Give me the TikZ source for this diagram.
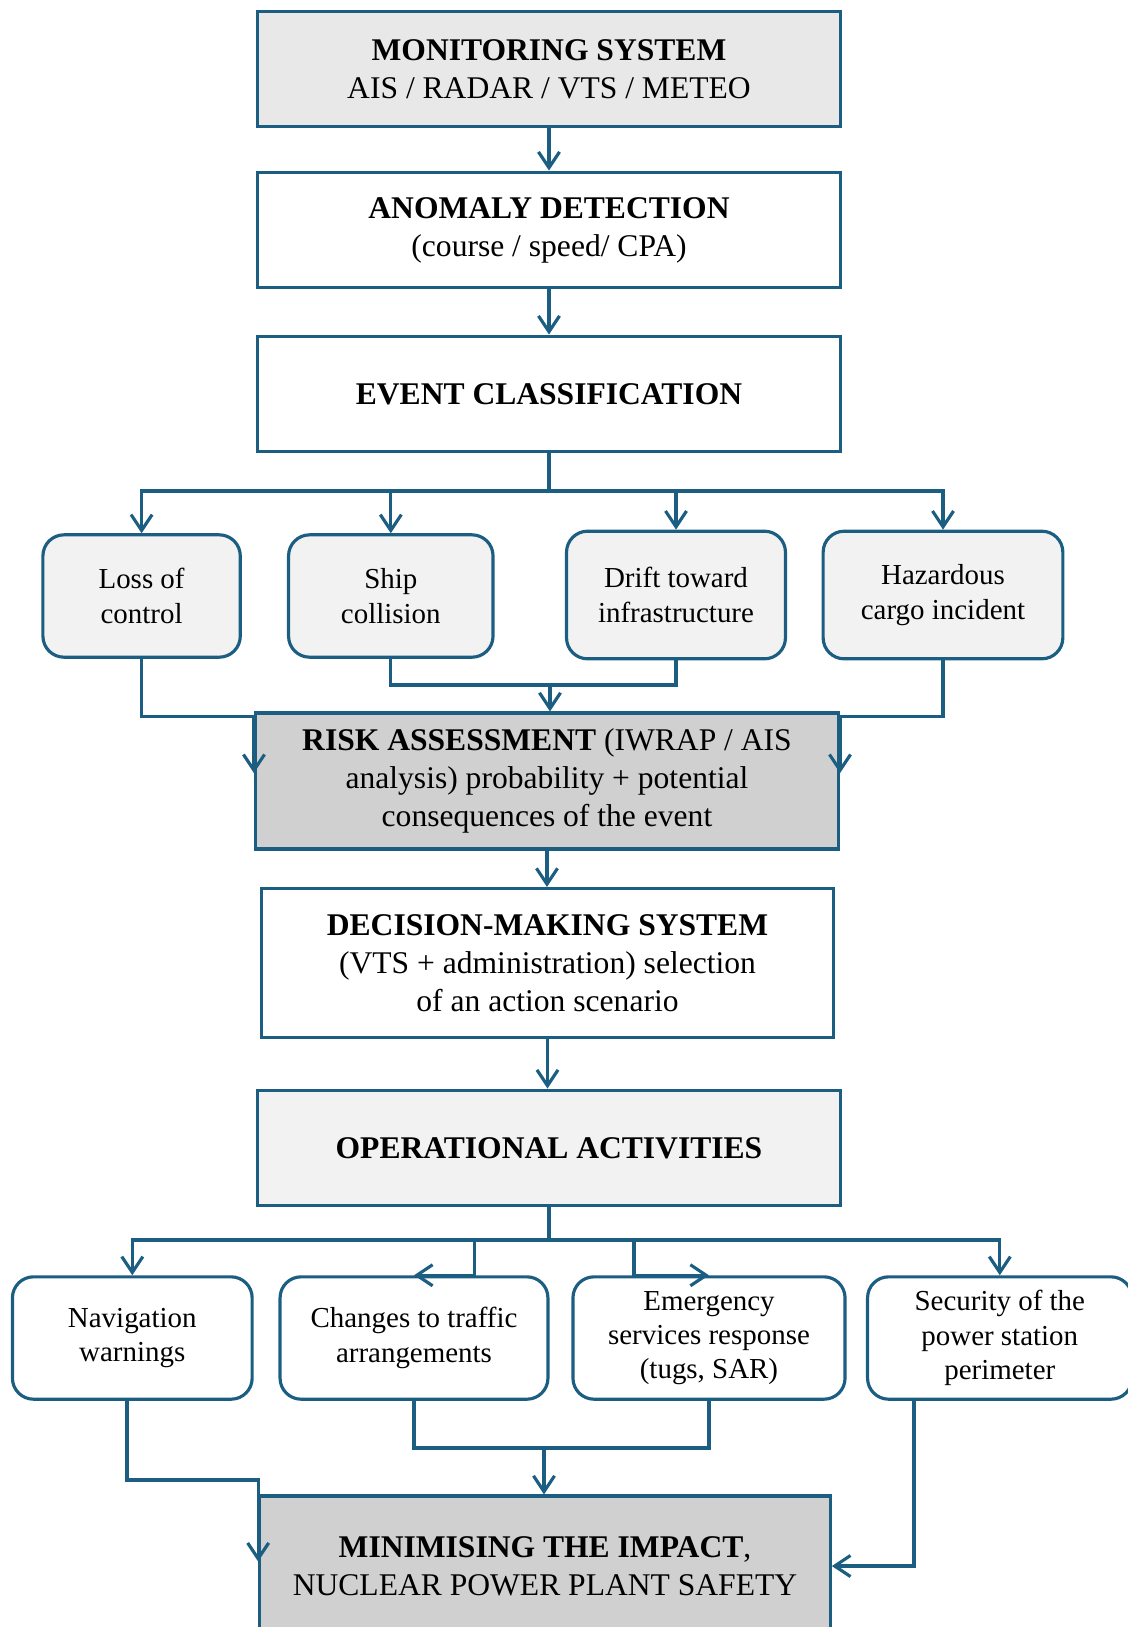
\documentclass[tikz,border=0pt]{standalone}
\usepackage{fontspec}
\setmainfont{Liberation Serif}
\usepackage{tikz}
\usetikzlibrary{positioning,arrows.meta}
\definecolor{framecol}{HTML}{1B5E82}
\definecolor{boxgray}{HTML}{E8E8E8}
\definecolor{boxdark}{HTML}{D0D0D0}
\definecolor{boxlight}{HTML}{F2F2F2}

\begin{document}
\begin{tikzpicture}[x=0.38pt,y=-0.38pt]
    \tikzstyle{stage} = [draw=framecol,line width=1.2pt,rectangle,align=center,minimum width=221.5pt,minimum height=44pt,font=\fontsize{12}{14.4}\selectfont]
    \tikzstyle{option} = [draw=framecol,line width=1.2pt,rectangle,rounded corners=8pt,align=center,minimum height=46.5pt,font=\fontsize{11}{13}\selectfont]
    \tikzstyle{link} = [draw=framecol,line width=1.2pt]
    \tikzstyle{linkarrow} = [link,-{Straight Barb[length=6pt,width=8pt]}]
    \useasboundingbox (0,0) rectangle (1127,1627);
    % main column
    \node[stage,fill=boxgray] (monitor) at (549,69) {\textbf{MONITORING SYSTEM}\\AIS / RADAR / VTS / METEO};
    \node[stage] (anomaly) at (549,230) {\textbf{ANOMALY DETECTION}\\(course / speed/ CPA)};
    \node[stage] (classify) at (549,394) {\textbf{EVENT CLASSIFICATION}};
    % event types
    \node[option,fill=boxlight,minimum width=75pt] (loss) at (141.6,596) {Loss of\\control};
    \node[option,fill=boxlight,minimum width=77.7pt] (ship) at (390.8,596) {Ship\\collision};
    \node[option,fill=boxlight,minimum width=83.2pt,minimum height=48.5pt] (drift) at (676,595) {Drift toward\\infrastructure};
    \node[option,fill=boxlight,minimum width=91.1pt,minimum height=48.5pt] (hazard) at (943,595) {Hazardous\\cargo incident};
    \node[stage,fill=boxdark,minimum height=51.7pt] (risk) at (547,781) {\textbf{RISK ASSESSMENT} (IWRAP / AIS\\analysis) probability + potential\\consequences of the event};
    \node[stage,minimum width=217.4pt,minimum height=56.6pt] (decision) at (547.5,963) {\textbf{DECISION-MAKING SYSTEM}\\(VTS + administration) selection\\of an action scenario};
    \node[stage,fill=boxlight] (operation) at (549,1148) {\textbf{OPERATIONAL ACTIVITIES}};
    % actions
    \node[option,minimum width=91.1pt] (nav) at (132.3,1338) {Navigation\\warnings};
    \node[option,minimum width=101.8pt] (traffic) at (414,1338) {Changes to traffic\\arrangements};
    \node[option,minimum width=103.4pt] (rescue) at (709,1338) {Emergency\\services response\\(tugs, SAR)};
    \node[option,minimum width=100.5pt] (perimeter) at (999.8,1338) {Security of the\\power station\\perimeter};
    \node[stage,fill=boxdark,minimum width=216.8pt,minimum height=53.2pt] (impact) at (545,1566) {\textbf{MINIMISING THE IMPACT},\\NUCLEAR POWER PLANT SAFETY};

    % connectors
    \draw[linkarrow] (monitor.south) -- (anomaly.north);
    \draw[linkarrow] (anomaly.south) -- (classify.north);
    \coordinate (evsplit) at (549,491);
    \draw[link] (classify.south) -- (evsplit);
    \foreach \n in {loss,ship,drift,hazard}
        \draw[linkarrow] (evsplit) -| (\n.north);
    \coordinate (sdjoin) at (550,685);
    \draw[link] (ship.south) |- (sdjoin) -| (drift.south);
    \draw[linkarrow] (sdjoin) -- (sdjoin |- risk.north);
    \draw[linkarrow] (loss.south) |- ([yshift=-1.9pt]risk.north west) -- ([yshift=3pt]risk.west);
    \draw[linkarrow] (hazard.south) |- ([yshift=-1.9pt]risk.north east) -- ([yshift=3pt]risk.east);
    \draw[linkarrow] (risk.south) -- (risk.south |- decision.north);
    \draw[linkarrow] (decision.south) -- (decision.south |- operation.north);
    \coordinate (opsplit) at (549,1240);
    \draw[link] (operation.south) -- (opsplit);
    \draw[linkarrow] (opsplit) -| (nav.north);
    \draw[linkarrow] (opsplit) -| (perimeter.north);
    \draw[linkarrow] (opsplit) -| ([xshift=23pt]traffic.north) -- (traffic.north);
    \draw[linkarrow] (opsplit) -| ([xshift=-28.5pt]rescue.north) -- (rescue.north);
    \coordinate (acjoin) at (544,1448);
    \draw[link] (traffic.south) |- (acjoin) -| (rescue.south);
    \draw[linkarrow] (acjoin) -- (acjoin |- impact.north);
    \draw[linkarrow] ([xshift=-2pt]nav.south) |- ([yshift=5.5pt]impact.north west) -- ([yshift=1.7pt]impact.west);
    \draw[linkarrow] ([xshift=-32.6pt]perimeter.south) |- (impact.east);
\end{tikzpicture}
\end{document}
